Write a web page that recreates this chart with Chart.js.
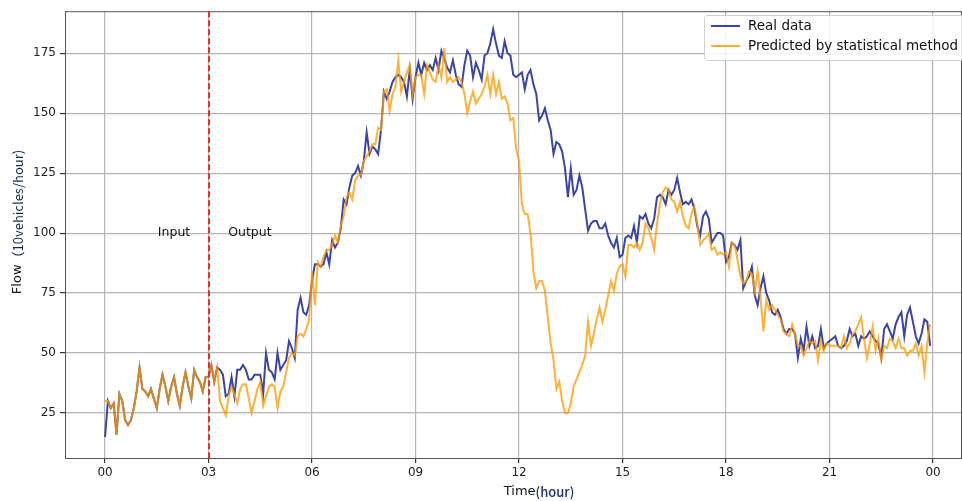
<!DOCTYPE html>
<html>
<head>
<meta charset="utf-8">
<script src="https://cdn.jsdelivr.net/npm/chart.js@4.4.0/dist/chart.umd.min.js"></script>
<style>
  html, body { margin: 0; padding: 0; background: #fff; }
</style>
</head>
<body>
<canvas id="chart-flow" width="962" height="501"></canvas>
<script>
// flow every 5 minutes, 00:00 -> 23:55
var realData = [
  15, 30, 27, 29, 16, 33, 30, 22, 20, 22, 27, 34, 44, 35, 34, 32, 35, 31, 27, 35,
  41, 36, 30, 36, 40, 33, 28, 36, 42, 36, 31, 43, 40, 38, 34, 40, 40, 45, 38, 44,
  43, 41, 32, 33, 40, 32, 43, 43, 45, 43, 39, 39, 41, 41, 41, 33, 50, 43, 42, 39,
  50, 43, 45, 47, 55, 52, 48, 68, 73, 67, 66, 70, 80, 87, 87, 86, 87, 92, 87, 97,
  94, 96, 102, 114, 112, 119, 124, 125, 128, 124, 130, 142, 133, 136, 135, 133, 143, 159, 156, 159,
  163, 165, 166, 165, 163, 157, 168, 156, 165, 171, 166, 171, 168, 170, 168, 173, 168, 176, 173, 169,
  167, 172, 166, 162, 161, 170, 176, 174, 165, 171, 168, 164, 174, 175, 179, 185, 179, 174, 173, 180,
  175, 174, 166, 165, 166, 167, 160, 166, 168, 162, 158, 147, 149, 152, 147, 143, 133, 138, 137, 134,
  127, 115, 127, 116, 118, 124, 119, 110, 101, 104, 105, 105, 102, 102, 104, 99, 96, 94, 98, 90,
  91, 98, 99, 98, 103, 96, 107, 106, 108, 104, 102, 106, 115, 116, 115, 112, 118, 116, 118, 123,
  117, 112, 113, 112, 114, 110, 103, 99, 107, 109, 106, 96, 98, 100, 100, 99, 88, 90, 96, 95,
  93, 97, 77, 80, 82, 86, 74, 70, 77, 82, 75, 72, 67, 66, 68, 65, 60, 58, 60, 60,
  58, 48, 56, 51, 61, 53, 57, 52, 53, 60, 52, 54, 55, 56, 57, 53, 52, 53, 55, 60,
  57, 58, 53, 57, 56, 57, 59, 57, 55, 54, 48, 60, 62, 59, 56, 62, 65, 67, 57, 66,
  69, 63, 57, 54, 58, 64, 63, 53
];
var predData = [
  30, 30, 27, 29, 16, 33, 30, 22, 20, 22, 27, 34, 44, 35, 34, 32, 35, 31, 27, 35,
  41, 36, 30, 36, 40, 33, 28, 36, 42, 36, 31, 43, 40, 38, 34, 40, 40, 45, 38, 44,
  30, 27, 24, 32, 36, 33, 29, 35, 37, 37, 31, 25, 30, 35, 38, 28, 32, 36, 37, 36,
  27, 34, 36, 42, 48, 50, 49, 57, 58, 57, 60, 64, 84, 70, 88, 86, 90, 93, 93, 95,
  99, 96, 103, 107, 115, 117, 114, 122, 124, 124, 130, 132, 134, 137, 137, 144, 143, 159, 160, 151,
  158, 161, 172, 159, 163, 167, 170, 158, 165, 166, 166, 158, 170, 167, 164, 163, 170, 165, 177, 163,
  165, 163, 164, 165, 163, 158, 150, 155, 159, 154, 156, 158, 161, 166, 158, 166, 158, 163, 156, 157,
  154, 147, 148, 135, 130, 112, 108, 108, 100, 84, 77, 80, 80, 76, 65, 54, 47, 35, 38, 30,
  25, 25, 29, 36, 39, 42, 45, 49, 63, 53, 58, 64, 69, 63, 68, 74, 80, 76, 83, 86,
  87, 82, 95, 95, 94, 96, 93, 96, 104, 102, 98, 93, 104, 112, 117, 119, 118, 114, 113, 109,
  113, 107, 103, 102, 108, 111, 104, 95, 97, 98, 100, 93, 94, 91, 92, 91, 92, 86, 96, 95,
  89, 82, 79, 80, 84, 83, 76, 84, 73, 59, 72, 68, 70, 68, 66, 64, 59, 58, 57, 62,
  58, 53, 53, 49, 52, 55, 54, 55, 47, 55, 51, 54, 53, 53, 53, 53, 52, 57, 52, 54,
  58, 59, 62, 65, 56, 48, 54, 61, 51, 56, 47, 53, 52, 56, 55, 52, 56, 52, 52, 49,
  51, 51, 54, 49, 53, 42, 54, 62
];
var xTicks = [0, 3, 6, 9, 12, 15, 18, 21, 24];
var xTickLabels = ["00", "03", "06", "09", "12", "15", "18", "21", "00"];
var yTicks = [25, 50, 75, 100, 125, 150, 175];
var seriesNames = ["Real data", "Predicted by statistical method"];
var splitHour = 3;

var blue = "#3a45a6";
var orange = "rgba(255,155,0,0.78)";

function toPoints(arr) {
  return arr.map(function (v, i) { return { x: i * 5 / 60, y: v }; });
}

var ctx = document.getElementById("chart-flow").getContext("2d");

// red split line, Input/Output text, legend, axis titles
var extras = {
  id: "extras",
  afterDatasetsDraw: function (chart) {
    var c = chart.ctx, a = chart.chartArea;
    var xs = chart.scales.x, ys = chart.scales.y;
    c.save();
    // frame (top / right spines)
    c.strokeStyle = "#555";
    c.lineWidth = 1;
    c.strokeRect(a.left + 0.5, a.top + 0.5, a.right - a.left - 1, a.bottom - a.top);

    var sx = Math.round(xs.getPixelForValue(splitHour));
    c.strokeStyle = "#ec2b2b";
    c.lineWidth = 2;
    c.setLineDash([6, 3]);
    c.beginPath();
    c.moveTo(sx, a.top);
    c.lineTo(sx, a.bottom);
    c.stroke();
    c.setLineDash([]);

    c.fillStyle = "#111";
    c.font = "12.5px 'DejaVu Sans'";
    c.textAlign = "center";
    c.textBaseline = "middle";
    c.fillText("Input", xs.getPixelForValue(2.0), ys.getPixelForValue(100));
    c.fillText("Output", xs.getPixelForValue(4.2), ys.getPixelForValue(100));

    // legend
    var lx = 704, ly = 15;
    c.fillStyle = "rgba(255,255,255,0.85)";
    c.strokeStyle = "#d0d0d0";
    c.lineWidth = 1;
    c.beginPath();
    c.roundRect(lx + 0.5, ly + 0.5, 270, 45, 3);
    c.fill();
    c.stroke();
    var cols = [blue, "rgb(255,176,40)"];
    c.font = "13.5px 'DejaVu Sans'";
    for (var k = 0; k < 2; k++) {
      var yy = ly + 11 + k * 20;
      c.strokeStyle = cols[k];
      c.lineWidth = 2;
      c.beginPath();
      c.moveTo(lx + 7, yy);
      c.lineTo(lx + 36, yy);
      c.stroke();
      c.fillStyle = "#111";
      c.textAlign = "left";
      c.fillText(seriesNames[k], lx + 44, yy);
    }

    // x title: Time(hour)
    c.textBaseline = "middle";
    c.textAlign = "left";
    c.font = "13px 'DejaVu Sans'";
    var w1 = c.measureText("Time").width;
    c.font = "500 13px 'Noto Sans CJK SC'";
    var w2 = c.measureText("(hour)").width;
    var tx = 539 - (w1 + w2) / 2;
    c.font = "13px 'DejaVu Sans'";
    c.fillStyle = "#111";
    c.fillText("Time", tx, 492);
    c.font = "500 13px 'Noto Sans CJK SC'";
    c.fillStyle = "#1c2f72";
    c.fillText("(hour)", tx + w1, 492);

    // y title: Flow（10vehicles/hour)
    c.translate(18, 222);
    c.rotate(-Math.PI / 2);
    c.font = "13px 'DejaVu Sans'";
    var v1 = c.measureText("Flow").width;
    c.font = "13px 'Noto Sans CJK SC'";
    var v2 = c.measureText("（10vehicles/hour)").width;
    var ty = -(v1 + v2) / 2;
    c.font = "13px 'DejaVu Sans'";
    c.fillStyle = "#111";
    c.fillText("Flow", ty, 0);
    c.font = "13px 'Noto Sans CJK SC'";
    c.fillStyle = "#1a2550";
    c.fillText("（10vehicles/hour)", ty + v1, 0);
    c.restore();
  }
};

new Chart(ctx, {
  type: "line",
  data: {
    datasets: [
      {
        label: seriesNames[0],
        data: toPoints(realData),
        borderColor: blue,
        borderWidth: 2,
        pointRadius: 0,
        tension: 0,
        fill: false,
        order: 2,
      },
      {
        label: seriesNames[1],
        data: toPoints(predData),
        borderColor: orange,
        borderWidth: 2,
        pointRadius: 0,
        tension: 0,
        fill: false,
        order: 1,
      },
    ],
  },
  options: {
    responsive: false,
    devicePixelRatio: 1,
    animation: false,
    layout: { padding: { top: 10, right: 0, left: 0, bottom: 0 } },
    plugins: {
      legend: { display: false },
      tooltip: { enabled: false },
    },
    scales: {
      x: {
        type: "linear",
        min: -1.16,
        max: 24.84,
        afterBuildTicks: function (s) {
          s.ticks = xTicks.map(function (v) { return { value: v }; });
        },
        afterFit: function (s) { s.height = 43; },
        grid: { color: "#b5b5b5", lineWidth: 1.2, tickColor: "#333", tickLength: 5 },
        border: { color: "#333", width: 1 },
        ticks: {
          autoSkip: false,
          maxRotation: 0,
          padding: 3,
          color: "#222",
          font: { size: 12, family: "DejaVu Sans" },
          callback: function (v, i) { return xTickLabels[i]; },
        },
      },
      y: {
        min: 6.25,
        max: 192.5,
        afterBuildTicks: function (s) {
          s.ticks = yTicks.map(function (v) { return { value: v }; });
        },
        afterFit: function (s) { s.width = 65; },
        grid: { color: "#b5b5b5", lineWidth: 1.2, tickColor: "#333", tickLength: 5 },
        border: { color: "#333", width: 1 },
        ticks: {
          padding: 4,
          color: "#222",
          font: { size: 12, family: "DejaVu Sans" },
        },
      },
    },
  },
  plugins: [extras],
});
</script>
</body>
</html>
